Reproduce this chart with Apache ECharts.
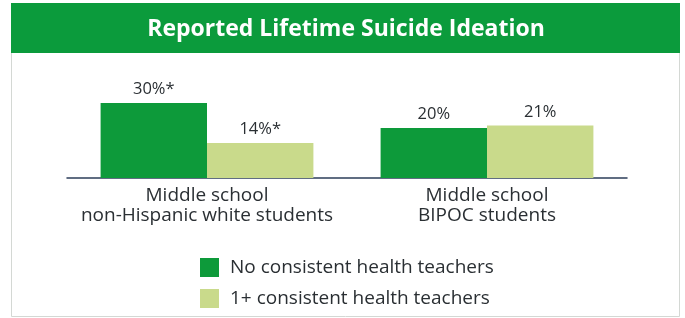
<!DOCTYPE html>
<html><head><meta charset="utf-8">
<script src="https://cdn.jsdelivr.net/npm/echarts@6/dist/echarts.min.js"></script>
<style>html,body{margin:0;padding:0;background:#fff}#c{width:685px;height:318px}</style>
</head><body><div id="c"></div>
<script>
const categories = ['Middle school\nnon-Hispanic white students', 'Middle school\nBIPOC students'];
const seriesNames = ['No consistent health teachers', '1+ consistent health teachers'];
const noConsistent = [30, 20];
const consistent = [14, 21];
const noConsistentLabels = ['30%*', '20%'];
const consistentLabels = ['14%*', '21%'];
const titleText = 'Reported Lifetime Suicide Ideation';

const FONT = '"Open Sans"';
const TXT = '#2a2f33';
const chart = echarts.init(document.getElementById('c'), null, {renderer: 'canvas'});
chart.setOption({
  animation: false,
  backgroundColor: '#fff',
  textStyle: {fontFamily: FONT},
  graphic: [
    {type: 'rect', shape: {x: 11.5, y: 3.5, width: 668, height: 313}, style: {fill: 'none', stroke: '#d4d8d4', lineWidth: 1}, z: 0},
    {type: 'rect', shape: {x: 11, y: 3, width: 669, height: 50}, style: {fill: '#0b9b3c'}, z: 1},
    {type: 'text', x: 346, y: 29, style: {text: titleText, fill: '#fff', font: 'bold 23px ' + FONT, textAlign: 'center', textVerticalAlign: 'middle'}, z: 2}
  ],
  grid: {left: 67, right: 58, top: 78, bottom: 140},
  legend: {
    orient: 'vertical', left: 195, top: 253, itemWidth: 19, itemHeight: 19, itemGap: 12,
    icon: 'rect',
    textStyle: {fontSize: 19, color: TXT, fontFamily: FONT, padding: [0, 0, 0, 6]},
    data: seriesNames
  },
  xAxis: {
    type: 'category', data: categories,
    axisLine: {lineStyle: {color: '#2c3e5a', width: 1.5}},
    axisTick: {show: false},
    axisLabel: {interval: 0, fontSize: 19, color: TXT, lineHeight: 20, margin: 8, fontFamily: FONT}
  },
  yAxis: {type: 'value', min: 0, max: 40, show: false, splitLine: {show: false}},
  series: [
    {name: seriesNames[0], type: 'bar', data: noConsistent, barGap: '0%', barCategoryGap: '24%',
     itemStyle: {color: '#0d9a3a'},
     label: {show: true, position: 'top', distance: 5, fontSize: 16.5, color: TXT, fontFamily: FONT,
       formatter: p => noConsistentLabels[p.dataIndex]}},
    {name: seriesNames[1], type: 'bar', data: consistent,
     itemStyle: {color: '#c9da8b'},
     label: {show: true, position: 'top', distance: 5, fontSize: 16.5, color: TXT, fontFamily: FONT,
       formatter: p => consistentLabels[p.dataIndex]}}
  ]
});
</script></body></html>
